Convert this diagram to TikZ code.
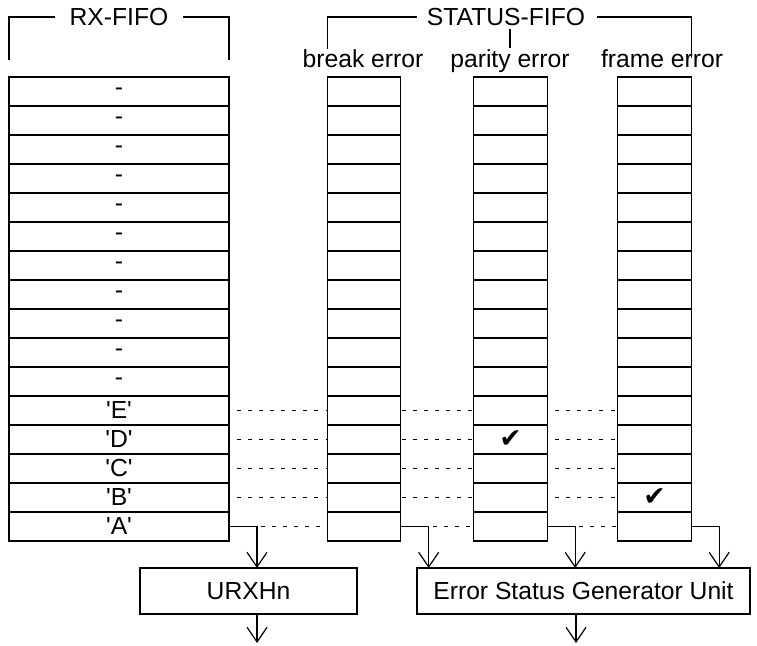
\documentclass[tikz,border=0pt]{standalone}
\usepackage{fontspec}
\setmainfont{Liberation Sans}[Ligatures=TeXOff]
\newfontfamily\tickfont{DejaVu Sans}
\usetikzlibrary{arrows.meta,positioning}

\tikzset{
  cell/.style={draw, line width=0.9pt, inner sep=0pt, outer sep=0pt, minimum height=21.75pt},
  rxcell/.style={cell, minimum width=165pt},
  stcell/.style={cell, minimum width=55pt},
  unitbox/.style={draw, line width=0.9pt, inner sep=0pt, outer sep=0pt, minimum height=34.5pt},
  flow/.style={line width=0.9pt, -{Straight Barb[length=11pt,width=15pt]}},
  gapline/.style={line width=1pt, dash pattern=on 3pt off 5.3pt, shorten >=1pt},
  bracket/.style={line width=0.8pt},
  lbl/.style={inner sep=0pt},
  flag/.style={inner sep=0pt, font=\tickfont\fontsize{20}{20}\selectfont, xslant=0.25, transform shape}
}

\begin{document}
\begin{tikzpicture}[x=0.75pt,y=-0.75pt,font=\fontsize{18.5}{20}\selectfont]
  \useasboundingbox (0,0) rectangle (757,646);

  % receive buffer
  \foreach \i/\t in {1/-,2/-,3/-,4/-,5/-,6/-,7/-,8/-,9/-,10/-,11/-,12/'E',13/'D',14/'C',15/'B',16/'A'}
    \node[rxcell] (rx-\i) at (119,62.5+29*\i) {\t};

  % status buffers
  \foreach \c/\x in {brk/364, par/510.5, frm/654.5}
    \foreach \i in {1,...,16}
      \node[stcell] (\c-\i) at (\x,62.5+29*\i) {};

  % error flags
  \node[lbl] (parflag) at (par-13) {\tickfont\fontsize{20}{20}\selectfont ✔};
  \node[lbl] (frmflag) at (frm-15) {\tickfont\fontsize{20}{20}\selectfont ✔};

  % headings
  \node[lbl] (rxtitle) at (119,17) {RX-FIFO};
  \draw[bracket] ([xshift=-11pt]rxtitle.west) -| ([yshift=12.75pt]rx-1.north west);
  \draw[bracket] ([xshift=11pt]rxtitle.east) -| ([yshift=12.75pt]rx-1.north east);

  \node[lbl] (sttitle) at (506,17) {STATUS-FIFO};
  \node[lbl, anchor=base] (brklbl) at (363,67) {break error};
  \node[lbl, anchor=base] (parlbl) at (510,67) {parity error};
  \node[lbl, anchor=base] (frmlbl) at (662,67) {frame error};
  \draw[bracket] ([xshift=-7.5pt]sttitle.west) -| ([yshift=21pt]brk-1.north west);
  \draw[bracket] ([xshift=9pt]sttitle.east) -| ([yshift=14pt]frm-1.north east);
  \draw[bracket] ([yshift=-2pt]sttitle.south -| parlbl.north) -- ([yshift=1pt]parlbl.north);

  % units
  \node[unitbox, minimum width=162.75pt] (urx) at (248.5,591) {URXHn};
  \node[unitbox, minimum width=249.75pt] (esg) at (583.5,591) {Error Status Generator Unit};

  % row links
  \foreach \a/\b/\s in {rx/brk/6pt, brk/par/1pt, par/frm/6pt} {
    \foreach \i in {12,...,15}
      \draw[gapline, shorten <=\s] (\a-\i.east) -- (\b-\i.west);
    \draw[gapline, shorten <=24pt] (\a-16.east) -- (\b-16.west);
  }

  % outputs of the last row
  \foreach \c/\u in {rx/urx, brk/esg, par/esg, frm/esg}
    \draw[flow] (\c-16.east) -- ++(21pt,0) coordinate (drop) -- (drop |- \u.north);
  \draw[flow] ([xshift=6.4pt]urx.south) -- ++(0,-21.75pt);
  \draw[flow] ([xshift=-5.6pt]esg.south) -- ++(0,-21.75pt);
\end{tikzpicture}
\end{document}
